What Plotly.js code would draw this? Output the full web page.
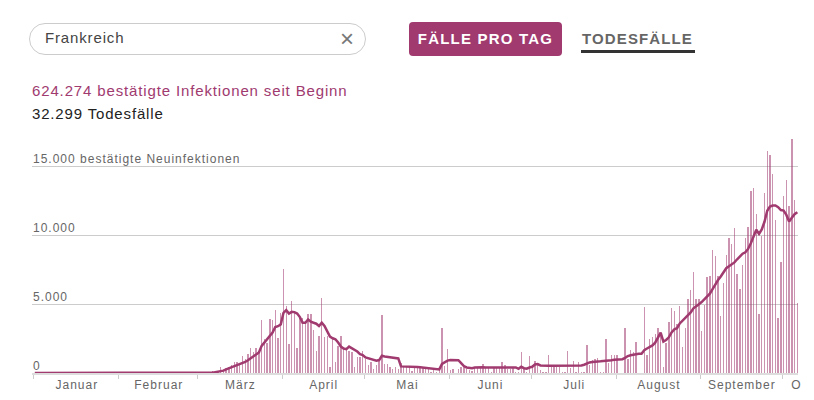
<!DOCTYPE html>
<html lang="de">
<head>
<meta charset="utf-8">
<script src="https://cdn.plot.ly/plotly-3.0.1.min.js"></script>
<style>
html,body{margin:0;padding:0;background:#fff;width:814px;height:400px;overflow:hidden;font-family:"Liberation Sans",Arial,sans-serif;}
#chart{position:absolute;left:0;top:0;width:814px;height:400px;}
.abs{position:absolute;white-space:nowrap;}
#search{left:29px;top:23px;width:335px;height:30px;border:1px solid #ccc;border-radius:16px;}
#searchText{left:45px;top:29px;font-size:15px;line-height:18px;letter-spacing:.85px;color:#444;}
#clear{left:340px;top:27px;font-size:24px;line-height:24px;color:#777;}
#btn{left:409px;top:22px;width:153px;height:34px;line-height:34px;background:#a03a6f;border-radius:4px;color:#fff;font-weight:bold;font-size:15px;letter-spacing:1.2px;text-align:center;}
#tab{left:582px;top:30px;color:#666;font-weight:bold;font-size:15px;line-height:18px;letter-spacing:1.12px;}
#tabLine{left:581px;top:50px;width:114px;height:3px;background:#333;}
#line1{left:32px;top:82px;font-size:15px;line-height:18px;letter-spacing:.86px;color:#a03a6f;}
#line2{left:32px;top:105px;font-size:15px;line-height:18px;letter-spacing:.84px;color:#222;}
#chart .xtick text,#chart .annotation-text{letter-spacing:1px;}
</style>
</head>
<body>
<div id="chart"></div>
<div class="abs" id="search"></div>
<div class="abs" id="searchText">Frankreich</div>
<div class="abs" id="clear">×</div>
<div class="abs" id="btn">FÄLLE PRO TAG</div>
<div class="abs" id="tab">TODESFÄLLE</div>
<div class="abs" id="tabLine"></div>
<div class="abs" id="line1">624.274 bestätigte Infektionen seit Beginn</div>
<div class="abs" id="line2">32.299 Todesfälle</div>
<script>
// Neuinfektionen pro Tag
const barsJan = [0,0,0,0,0,0,0,0,0,0,0,0,0,0,0,0,0,0,0,0,0,0,0,0,3,0,0,1,0,0,0];
const barsFeb = [0,0,0,0,0,0,0,5,0,0,0,1,0,0,0,0,0,0,0,0,0,0,0,0,0,2,2,19,0];
const barsMar = [40,30,60,30,70,140,170,150,400,250,330,450,560,780,800,650,1200,1000,1370,1850,1560,1850,1490,3820,2450,2160,3890,3820,4600,2570,4370];
const barsApr = [7560,4860,2100,5200,4370,1850,4000,4000,3770,4250,4320,3120,1600,2690,5450,2620,2690,400,2450,800,1970,2690,1730,1850,1600,1490,450,1170,1130,1600];
const barsMay = [1000,580,770,290,580,960,4180,650,650,400,300,400,300,700,400,450,450,150,450,450,450,350,300,400,100,350,100,300,3240,530,1750];
const barsJun = [240,310,30,310,400,500,300,250,150,400,420,400,670,400,400,100,350,350,350,770,600,300,300,450,100,100,1530,300,100,1270];
const barsJul = [400,890,720,250,50,50,1320,400,400,400,400,50,50,1600,350,890,100,800,50,50,2040,600,960,1000,1080,50,50,2500,720,1320,1320];
const barsAug = [1300,0,0,3300,1000,1680,1490,2260,0,0,4800,1320,2450,2640,2800,3240,2930,430,2200,3720,4700,4510,3550,4850,1920,3240,5380,6050,7300,5400,5380];
const barsSep = [3050,4920,6960,7080,8900,8500,7030,4150,6500,8560,9820,9360,10550,7180,6130,7840,9780,10570,13200,13470,11540,4270,9950,13080,16100,15800,14420,11100,4030,8030];
const barsOct = [12850,14000,12120,16990,12550,5060];

// Sieben-Tage-Mittel
const avgJan = [0,0,0,0,0,0,0,0,0,0,0,0,0,0,0,0,0,0,0,0,0,0,0,0,0,0,0,0,0,0,0];
const avgFeb = [0,0,0,0,0,0,0,0,1,1,1,1,1,1,1,1,1,1,1,1,1,1,1,1,2,2,3,4,5];
const avgMar = [10,15,20,25,35,45,60,90,130,170,260,330,400,480,560,650,700,800,920,1050,1200,1350,1490,1970,2200,2400,2650,2930,3340,3400,3530];
const avgApr = [4370,4560,4320,4440,4420,4320,4060,3650,3650,3890,3720,3650,3580,3410,3650,3410,3050,2640,2520,2450,2210,1920,1780,1730,1920,1800,1730,1560,1370,1300];
const avgMay = [1130,1060,1010,940,890,940,1250,1200,1180,1170,1140,1100,1060,480,480,480,480,470,460,440,420,400,370,340,310,290,270,260,660,780,900];
const avgJun = [940,940,940,930,720,500,400,370,350,400,420,410,410,400,400,400,390,390,400,430,430,430,440,440,400,300,450,350,320,400];
const avgJul = [450,620,650,550,530,530,530,530,530,530,530,530,530,530,530,530,530,540,550,600,700,770,800,840,840,850,860,880,900,930,960];
const avgAug = [980,990,1000,1100,1230,1290,1340,1390,1390,1400,1650,1780,1900,2000,2200,2520,2930,2280,2400,2590,2950,3170,3250,3600,3800,4000,4200,4400,4700,4880,5000];
const avgSep = [5150,5350,5600,5760,6090,6470,6750,7010,7300,7610,7750,7860,8030,8260,8460,8660,8760,9010,9420,9870,10400,10100,10420,10980,11780,12090,12160,12160,12040,11830];
const avgOct = [11790,11480,11000,11280,11530,11680];

const monthNumbers = ["01","02","03","04","05","06","07","08","09","10"];
const monthBars = [barsJan,barsFeb,barsMar,barsApr,barsMay,barsJun,barsJul,barsAug,barsSep,barsOct];
const monthAvg = [avgJan,avgFeb,avgMar,avgApr,avgMay,avgJun,avgJul,avgAug,avgSep,avgOct];
const tickLabels = ["Januar","Februar","März","April","Mai","Juni","Juli","August","September","O"];
const tickLabelDates = ["2020-01-16 16:00","2020-02-15 16:00","2020-03-16 12:00","2020-04-16","2020-05-16 16:00","2020-06-16","2020-07-16 16:00","2020-08-16 16:00","2020-09-16 00:00","2020-10-06"];
const yValues = [0,5000,10000,15000];
const yLabels = ["0","5.000","10.000","15.000 bestätigte Neuinfektionen"];
const brand = "#a03a6f";

const dates=[], bars=[], avg=[];
monthNumbers.forEach((m,i)=>{
  monthBars[i].forEach((v,k)=>{
    dates.push("2020-"+m+"-"+String(k+1).padStart(2,"0")+" 07:00");
    bars.push(v);
    avg.push(monthAvg[i][k]);
  });
});
const monthStarts = monthNumbers.map(m=>"2020-"+m+"-01");

Plotly.newPlot("chart",[
  {type:"bar",x:dates,y:bars,width:43200000,marker:{color:"rgba(160,58,111,0.55)",line:{width:0}},hoverinfo:"skip"},
  {type:"scatter",mode:"lines",x:dates,y:avg,line:{color:brand,width:2.5},hoverinfo:"skip",cliponaxis:false}
],{
  width:814,height:400,showlegend:false,bargap:0,
  paper_bgcolor:"#fff",plot_bgcolor:"#fff",
  margin:{l:32,r:16,t:130,b:26.5,pad:0},
  font:{family:'"Liberation Sans",Arial,sans-serif',size:12,color:"#666"},
  xaxis:{type:"date",range:["2019-12-31 06:30","2020-10-06 13:12"],
    tickmode:"array",tickvals:tickLabelDates,ticktext:tickLabels,ticks:"",showgrid:false,zeroline:false,
    showline:true,linecolor:"#ddd",linewidth:2,
    tickfont:{size:12,color:"#666"},
    minor:{tickmode:"array",tickvals:monthStarts,ticks:"outside",ticklen:4,tickcolor:"#ccc",tickwidth:1,showgrid:false}},
  yaxis:{range:[0,17645],tickmode:"array",tickvals:yValues,showticklabels:false,ticks:"",
    showgrid:true,gridcolor:"#ccc",gridwidth:1,zeroline:false},
  annotations:yValues.map((v,i)=>({xref:"paper",yref:"y",x:0,y:v,xanchor:"left",yanchor:"bottom",yshift:-0.5,
    text:yLabels[i],showarrow:false,align:"left",font:{size:12,color:"#666"},borderpad:0}))
},{staticPlot:true,displayModeBar:false});
</script>
</body>
</html>
